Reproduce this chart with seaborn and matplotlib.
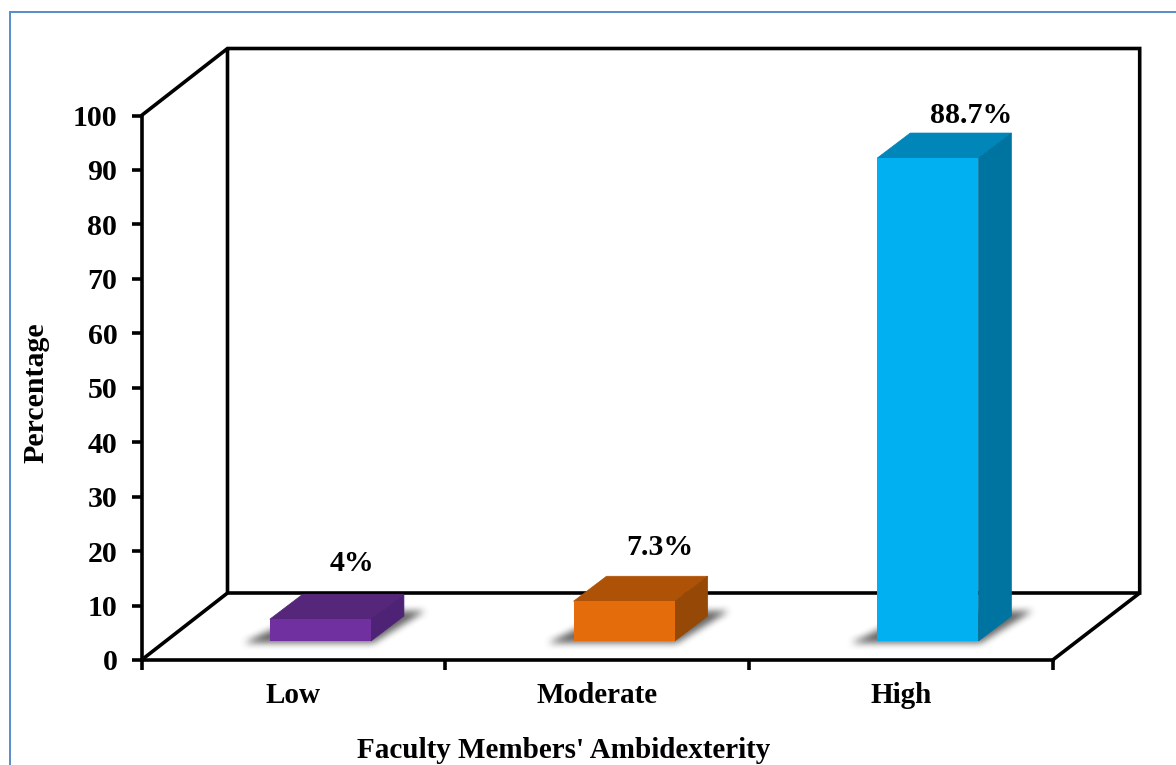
import numpy as np
import pandas as pd
import matplotlib
matplotlib.use("Agg")
import matplotlib.pyplot as plt
from matplotlib.patches import Polygon, Rectangle
from matplotlib.path import Path
from matplotlib.transforms import Affine2D
import seaborn as sns

# Survey results
categories = ["Low", "Moderate", "High"]
percentages = [4.0, 7.3, 88.7]

# Face colours for each bar
front_colors = ["#7030A0", "#E46C0A", "#00B0F0"]
top_colors = ["#55267A", "#AE5208", "#0086B8"]
side_colors = ["#4E2275", "#964806", "#0074A0"]

# Value-label offsets from each bar's top, in pixels
label_dx = [32, 36, 43]
label_dy = [56, 54, 43]

W, H = 1176, 765
DPI = 100
px = 72 / DPI  # one pixel in points

# Pseudo-3D geometry, in pixels
WALL_DX, WALL_DY = 86, 67      # floor depth
BAR_DX, BAR_DY = 33, 25        # bar depth
BAR_SHIFT_X, BAR_SHIFT_Y = 27, 19  # where bars stand on the floor

sns.set_theme(style="white")
plt.rcParams["font.family"] = ["Liberation Serif", "DejaVu Serif"]
plt.rcParams["font.weight"] = "bold"

fig = plt.figure(figsize=(W / DPI, H / DPI), dpi=DPI, facecolor="white")
left, right, top, bottom = 141.5, 1052.7, 115.5, 660
ax = fig.add_axes([left / W, 1 - bottom / H, (right - left) / W, (bottom - top) / H])
ax.patch.set_visible(False)
ax.set_zorder(2)

frame = pd.DataFrame({"level": categories, "pct": percentages})
sns.barplot(data=frame, x="level", y="pct", hue="level", palette=front_colors,
            order=categories, hue_order=categories, legend=False, width=0.333,
            saturation=1, ax=ax, zorder=5)
ax.set_xlim(-0.5, 2.5)
ax.set_ylim(0, 100)


def to_fig_px(x, y):
    """Data coordinates to pixels, origin at the figure's lower left."""
    return ax.transData.transform((x, y))


LINE = "black"
LW = 3.6 * px
pix = Affine2D()  # identity: coordinates given directly in display pixels

# Back wall and floor edges, built from the axes corners
x0, y0 = to_fig_px(-0.5, 0)
x1, y1 = to_fig_px(2.5, 100)
wall = [
    [(x0, y1), (x0 + WALL_DX, y1 + WALL_DY), (x1 + WALL_DX + 1, y1 + WALL_DY),
     (x1 + WALL_DX + 1, y0 + WALL_DY), (x0 + WALL_DX, y0 + WALL_DY), (x0 + WALL_DX, y1 + WALL_DY)],
    [(x0, y0), (x0 + WALL_DX, y0 + WALL_DY)],
    [(x1 + WALL_DX + 1, y0 + WALL_DY), (x1, y0)],
]
for seg in wall:
    xs, ys = zip(*seg)
    ax.plot(xs, ys, transform=pix, color=LINE, lw=LW, clip_on=False, zorder=1,
            solid_joinstyle="miter", solid_capstyle="butt")

# Soft floor shadows rendered into one alpha image
grid_x, grid_y = np.meshgrid(np.arange(W) + 0.5, np.arange(H) + 0.5)
points = np.column_stack([grid_x.ravel(), grid_y.ravel()])
shadow = np.zeros((H, W))


def box_blur(a, r):
    kernel = np.ones(2 * r + 1) / (2 * r + 1)
    a = np.apply_along_axis(lambda m: np.convolve(m, kernel, mode="same"), 0, a)
    return np.apply_along_axis(lambda m: np.convolve(m, kernel, mode="same"), 1, a)


bars = list(ax.patches)
for bar in bars:
    fx0 = to_fig_px(bar.get_x(), 0)[0] + BAR_SHIFT_X
    fx1 = to_fig_px(bar.get_x() + bar.get_width(), 0)[0] + BAR_SHIFT_X
    fy0 = y0 + BAR_SHIFT_Y
    outline = Path([(fx0 - 26, fy0 - 2), (fx1 + 2, fy0 - 2), (fx1 + 54, fy0 + 30),
                    (fx0 + 40, fy0 + 30), (fx0 - 26, fy0 - 2)])
    shadow += outline.contains_points(points).reshape(H, W)
shadow = box_blur(box_blur(np.clip(shadow, 0, 1), 4), 3)
rgba = np.zeros((H, W, 4))
rgba[..., :3] = 0.3
rgba[..., 3] = shadow * 0.85
fig.figimage(rgba, origin="lower", zorder=0.5)

# Extrude each bar: shift the front face, then add top and side faces
for bar, value, tc, sc, dx, dy in zip(bars, percentages, top_colors, side_colors,
                                      label_dx, label_dy):
    bar.set_transform(ax.transData + Affine2D().translate(BAR_SHIFT_X, BAR_SHIFT_Y))
    bar.set_clip_on(False)
    bar.set_linewidth(0)
    fx0, fy_top = to_fig_px(bar.get_x(), bar.get_height())
    fx1, fy_base = to_fig_px(bar.get_x() + bar.get_width(), 0)
    fx0 += BAR_SHIFT_X
    fx1 += BAR_SHIFT_X
    fy_top += BAR_SHIFT_Y
    fy_base += BAR_SHIFT_Y
    ax.add_patch(Polygon([(fx0, fy_top), (fx1, fy_top), (fx1 + BAR_DX, fy_top + BAR_DY),
                          (fx0 + BAR_DX, fy_top + BAR_DY)], closed=True, transform=pix,
                         facecolor=tc, edgecolor=tc, linewidth=0.5, clip_on=False, zorder=4.5))
    ax.add_patch(Polygon([(fx1, fy_base), (fx1 + BAR_DX, fy_base + BAR_DY),
                          (fx1 + BAR_DX, fy_top + BAR_DY), (fx1, fy_top)], closed=True,
                         transform=pix, facecolor=sc, edgecolor=sc, linewidth=0.5,
                         clip_on=False, zorder=4.5))
    ax.annotate(f"{value:g}%", xy=((fx0 + fx1) / 2 + dx, fy_top + dy), xycoords=pix,
                ha="center", va="center", fontsize=21.5, fontweight="bold", color="black",
                zorder=7, annotation_clip=False)

# Axes, ticks and titles
sns.despine(ax=ax, top=True, right=True)
for name in ("left", "bottom"):
    ax.spines[name].set_color(LINE)
    ax.spines[name].set_linewidth(LW)
    ax.spines[name].set_zorder(4)
ax.set_yticks(np.arange(0, 101, 10))
ax.tick_params(axis="y", length=8 * px * 1.2, width=LW, color=LINE, left=True,
               labelsize=21.5, pad=10.5, labelcolor="black")
ax.set_xticks([-0.5, 0.5, 1.5, 2.5], labels=["", "", "", ""])
ax.set_xticks(range(len(categories)), labels=categories, minor=True)
ax.tick_params(axis="x", which="major", length=8 * px * 1.2, width=LW, color=LINE, bottom=True)
ax.tick_params(axis="x", which="minor", length=0, labelsize=21, pad=15.5, labelcolor="black")
ax.set_xlabel("Faculty Members' Ambidexterity", fontsize=21, fontweight="bold", color="black")
ax.set_ylabel("Percentage", fontsize=21.5, fontweight="bold", color="black")
ax.xaxis.set_label_coords((564 - left) / (right - left), -(751 - bottom) / (bottom - top),)
ax.xaxis.label.set_va("center")
ax.yaxis.set_label_coords((36 - left) / (right - left), (bottom - 393) / (bottom - top))
ax.yaxis.label.set_va("center")

# Thin frame around the whole figure
fig.add_artist(Rectangle((10 / W, -0.05), 1.2, 1 - 12 / H + 0.05, transform=fig.transFigure,
                         fill=False, edgecolor="#5B8FCC", linewidth=2 * px))

fig.savefig("out.png", dpi=DPI, facecolor="white")
